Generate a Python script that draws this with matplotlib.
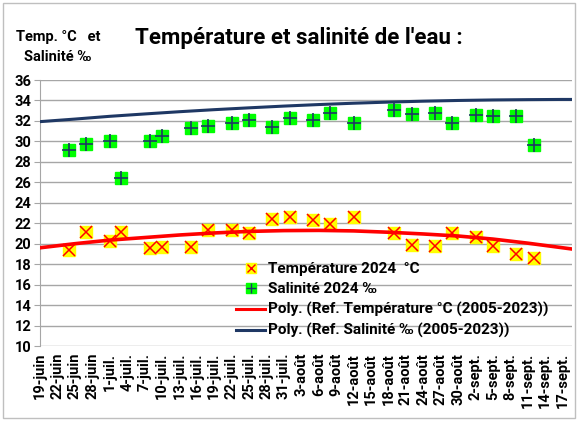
import matplotlib
matplotlib.use("Agg")
import matplotlib.pyplot as plt
import pandas as pd
from matplotlib.legend_handler import HandlerTuple
from matplotlib.patches import Rectangle

plt.rcParams['font.family'] = ['Roboto', 'DejaVu Sans']
plt.rcParams['font.weight'] = 'bold'

# mesures 2024
dates_2024 = ['2024-06-24', '2024-06-27', '2024-07-01', '2024-07-03', '2024-07-08',
              '2024-07-10', '2024-07-15', '2024-07-18', '2024-07-22', '2024-07-25',
              '2024-07-29', '2024-08-01', '2024-08-05', '2024-08-08', '2024-08-12',
              '2024-08-19', '2024-08-22', '2024-08-26', '2024-08-29', '2024-09-02',
              '2024-09-05', '2024-09-09', '2024-09-12']
temp_2024 = [19.4, 21.1, 20.3, 21.1, 19.55, 19.65, 19.7, 21.3, 21.3, 21.0, 22.4, 22.6,
             22.3, 21.9, 22.6, 21.0, 19.9, 19.8, 21.0, 20.7, 19.8, 19.0, 18.6]
sal_2024 = [29.2, 29.7, 30.0, 26.4, 30.0, 30.5, 31.3, 31.5, 31.8, 32.1, 31.4, 32.3,
            32.1, 32.8, 31.8, 33.1, 32.7, 32.8, 31.8, 32.6, 32.5, 32.5, 29.6]

# courbes de reference (jours depuis le 19 juin)
ref_days = [0, 6, 12, 18, 24, 30, 36, 42, 48, 54, 60, 66, 72, 78, 84, 90, 92]
ref_temp = [19.6, 20.0, 20.35, 20.6, 20.85, 21.05, 21.2, 21.28, 21.3, 21.25, 21.12,
            20.95, 20.75, 20.45, 20.05, 19.6, 19.45]
ref_sal = [31.93, 32.18, 32.45, 32.68, 32.9, 33.1, 33.28, 33.45, 33.6, 33.73, 33.84,
           33.93, 34.0, 34.05, 34.08, 34.1, 34.1]

mois = {6: 'juin', 7: 'juil.', 8: 'août', 9: 'sept.'}

start = pd.Timestamp('2024-06-19')
d24 = pd.to_datetime(dates_2024)
dref = start + pd.to_timedelta(ref_days, unit='D')

fig = plt.figure(figsize=(5.78, 4.21), dpi=100)
ax = fig.add_axes([40/578, 1-346/421, 532/578, 266/421])

ax.plot(d24, temp_2024, 's', ms=9, mfc='#ffff00', mec='#ffff00', zorder=3)
ax.plot(d24, temp_2024, 'x', ms=8, mew=1.1, color='#ff0000', zorder=4)
ax.plot(d24, sal_2024, 's', ms=9, mfc='#00ff00', mec='#00ff00', zorder=3)
ax.plot(d24, sal_2024, '+', ms=10, mew=1.2, color='#1f3864', zorder=4)
ax.plot(dref, ref_temp, '-', color='#ff0000', lw=2.6, zorder=5)
ax.plot(dref, ref_sal, '-', color='#1f3864', lw=2.2, zorder=5)

ax.set_ylim(10, 36)
ax.set_yticks(range(10, 37, 2))
ax.set_xlim(start, start + pd.Timedelta(days=91.6))
ticks = pd.date_range(start, periods=31, freq='3D')
ax.set_xticks(ticks)
ax.set_xticklabels([f"{t.day}-{mois[t.month]}" for t in ticks], rotation=90,
                   fontsize=10.5, fontweight='bold')
ax.tick_params(axis='y', labelsize=10.5, length=4, color='#a6a6a6', pad=2)
ax.tick_params(axis='x', length=0, pad=5)
ax.grid(axis='y', color='#a6a6a6', lw=1)
ax.set_axisbelow(True)
for s in ['top', 'right', 'bottom']:
    ax.spines[s].set_visible(False)
ax.spines['left'].set_color('#a6a6a6')

fig.text(135/578, 1-38/421, "Température et salinité de l'eau :", fontsize=16,
         fontweight='bold', va='center', ha='left')
fig.text(58/578, 1-37/421, "Temp. °C   et", fontsize=10.5, fontweight='bold',
         ha='center', va='center')
fig.text(58/578, 1-57/421, "Salinité ‰", fontsize=10.5, fontweight='bold',
         ha='center', va='center')

h_t = (ax.plot([], [], 's', ms=7, mfc='#ffff00', mec='#ffff00')[0],
       ax.plot([], [], 'x', ms=6, mew=1, color='#ff0000')[0])
h_s = (ax.plot([], [], 's', ms=7, mfc='#00ff00', mec='#00ff00')[0],
       ax.plot([], [], '+', ms=7, mew=1, color='#1f3864')[0])
h_rt = ax.plot([], [], '-', color='#ff0000', lw=2.2)[0]
h_rs = ax.plot([], [], '-', color='#1f3864', lw=2.2)[0]
fig.legend([h_t, h_s, h_rt, h_rs],
           ['Température 2024  °C', 'Salinité 2024 ‰',
            'Poly. (Ref. Température °C (2005-2023))',
            'Poly. (Ref. Salinité ‰ (2005-2023))'],
           handler_map={tuple: HandlerTuple(ndivide=1, pad=0)},
           loc='upper left', bbox_to_anchor=(236/578, 1-262/421), frameon=False,
           fontsize=11, handlelength=1.9, handletextpad=0.2, labelspacing=0.4,
           borderaxespad=0, borderpad=0)

fig.patches.append(Rectangle((3/578, 3/421), 572/578, 415/421, transform=fig.transFigure,
                             fill=False, edgecolor='#bfbfbf', lw=1))

fig.savefig('out.png', dpi=100)
